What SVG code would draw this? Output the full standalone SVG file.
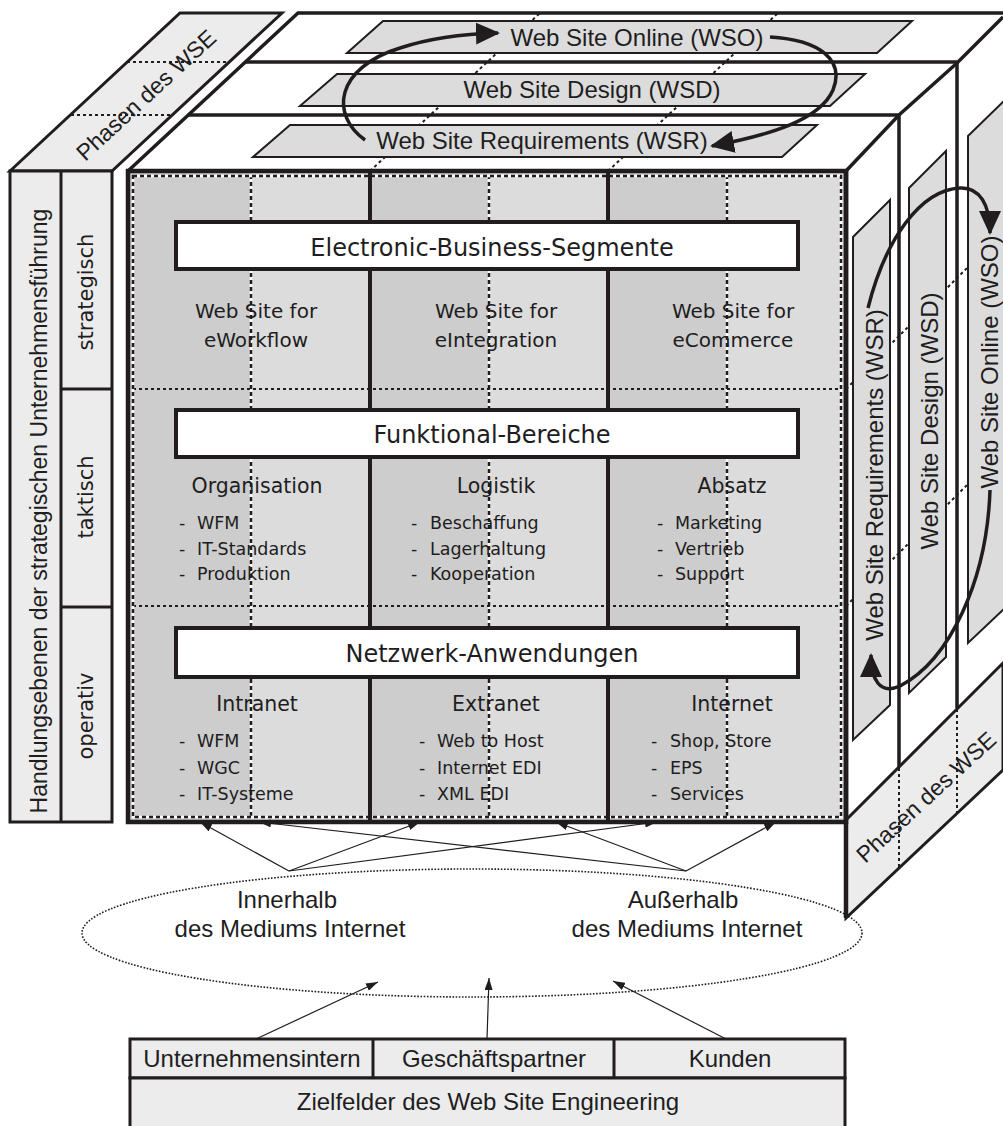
<svg xmlns="http://www.w3.org/2000/svg" width="1003" height="1126" viewBox="0 0 1003 1126">
<style>
.k{stroke:#211d1e;fill:none}
.t{font-family:"DejaVu Sans",sans-serif;fill:#211d1e}
.s{font-family:"Liberation Sans",Arial,sans-serif;fill:#211d1e}
.pl{fill:#ececec;stroke:#211d1e;stroke-width:3}
.sl{fill:#dcdcdc;stroke:#211d1e;stroke-width:2}
.dash{stroke:#211d1e;stroke-width:2;stroke-dasharray:3 3;fill:none}
.wd{stroke:#fff;stroke-width:2.5;fill:none}
.bd{stroke:#211d1e;stroke-width:2.5;stroke-dasharray:4 3;fill:none}
.bar{fill:#fff;stroke:#211d1e;stroke-width:4}
.thin{stroke:#211d1e;stroke-width:1.2;fill:none;marker-end:url(#ah)}
.curve{stroke:#211d1e;stroke-width:3.5;fill:none;marker-end:url(#big)}
</style>
<defs>
<marker id="ah" viewBox="0 0 12 8" refX="12" refY="4" markerWidth="12" markerHeight="8" markerUnits="userSpaceOnUse" orient="auto"><path d="M0,0 L12,4 L0,8 z" fill="#211d1e"/></marker>
<marker id="big" viewBox="0 0 24 22" refX="22" refY="11" markerWidth="24" markerHeight="22" markerUnits="userSpaceOnUse" orient="auto"><path d="M0,0 L24,11 L0,22 z" fill="#211d1e"/></marker>
</defs>
<rect width="1003" height="1126" fill="#fff"/>

<!-- left Phasen -->
<g id="phasen-left">
<polygon class="pl" points="10,171 180,13 282,13 112,171"/>
<line class="dash" x1="127" y1="62" x2="229" y2="62" stroke-dasharray="6 3"/>
<line class="dash" x1="71" y1="115" x2="172" y2="115" stroke-dasharray="6 3"/>
<text class="s" font-size="23" text-anchor="middle" transform="translate(146,95) rotate(-42.7)" y="8">Phasen des WSE</text>
</g>

<!-- left panel -->
<g id="handlungsebenen">
<rect x="10" y="171" width="102" height="651" class="pl"/>
<line class="k" stroke-width="3" x1="61" y1="171" x2="61" y2="822"/>
<line class="k" stroke-width="3" x1="61" y1="389" x2="112" y2="389"/>
<line class="k" stroke-width="3" x1="61" y1="607" x2="112" y2="607"/>
<text class="s" font-size="23" text-anchor="middle" transform="translate(39,511) rotate(-90)" y="8">Handlungsebenen der strategischen Unternehmensführung</text>
<text class="t" font-size="21" text-anchor="middle" transform="translate(86,292) rotate(-90)" y="7">strategisch</text>
<text class="t" font-size="21" text-anchor="middle" transform="translate(86,497) rotate(-90)" y="7">taktisch</text>
<text class="t" font-size="21" text-anchor="middle" transform="translate(86,716) rotate(-90)" y="7">operativ</text>
</g>

<!-- top face -->
<g id="top-face">
<line class="dash" x1="370" y1="171" x2="540" y2="13"/>
<line class="dash" x1="608" y1="171" x2="778" y2="13"/>
<polyline class="k" stroke-width="3.5" points="128,171 298,13 1003,13"/>
<line class="k" stroke-width="3.5" x1="245" y1="62" x2="957" y2="62"/>
<line class="k" stroke-width="3.5" x1="188" y1="115" x2="899" y2="115"/>
<polyline class="k" stroke-width="3.5" points="846,171 899,115 957,63 1003,17"/>
</g>
<g id="wso-top">
<polygon class="sl" points="383,21 912,21 877,53 347,53"/>
<text class="s" font-size="24" text-anchor="middle" x="637" y="46">Web Site Online (WSO)</text>
</g>
<g id="wsd-top">
<polygon class="sl" points="337,74 865,74 830,106 300,106"/>
<text class="s" font-size="24" text-anchor="middle" x="592" y="98">Web Site Design (WSD)</text>
</g>
<g id="wsr-top">
<polygon class="sl" points="290,125 817,125 782,157 253,157"/>
<text class="s" font-size="24" text-anchor="middle" x="542" y="149">Web Site Requirements (WSR)</text>
</g>

<!-- right face -->
<g id="right-face">
<line class="dash" x1="846" y1="389" x2="1003" y2="232"/>
<line class="dash" x1="846" y1="606" x2="1003" y2="449"/>
<line class="k" stroke-width="3.5" x1="899" y1="115" x2="899" y2="767"/>
<line class="k" stroke-width="3.5" x1="957" y1="63" x2="957" y2="708"/>
</g>
<g id="wsr-right">
<polygon class="sl" points="853,237 890,200 890,705 853,740"/>
<text class="s" font-size="24" text-anchor="middle" transform="translate(874,475) rotate(-90)" y="8.5">Web Site Requirements (WSR)</text>
</g>
<g id="wsd-right">
<polygon class="sl" points="909,188 946,151 946,657 909,693"/>
<text class="s" font-size="24" text-anchor="middle" transform="translate(929,421) rotate(-90)" y="8.5">Web Site Design (WSD)</text>
</g>
<g id="wso-right">
<polygon class="sl" points="968,136 1006,99 1006,607 968,643"/>
<text class="s" font-size="24" text-anchor="middle" transform="translate(989,362) rotate(-90)" y="8.5">Web Site Online (WSO)</text>
</g>

<!-- right Phasen -->
<g id="phasen-right">
<polygon class="pl" points="846,820 1003,663 1003,770 846,918"/>
<line class="dash" x1="899" y1="768" x2="899" y2="868" stroke-dasharray="6 3"/>
<line class="dash" x1="957" y1="709" x2="957" y2="813" stroke-dasharray="6 3"/>
<text class="s" font-size="23" text-anchor="middle" transform="translate(926,797) rotate(-42.7)" y="8">Phasen des WSE</text>
</g>

<!-- front face -->
<g id="front-face">
<rect x="128" y="171" width="123" height="651" fill="#cdcdcd"/>
<rect x="251" y="171" width="119" height="651" fill="#dcdcdc"/>
<rect x="370" y="171" width="119" height="651" fill="#cdcdcd"/>
<rect x="489" y="171" width="119" height="651" fill="#dcdcdc"/>
<rect x="608" y="171" width="119" height="651" fill="#cdcdcd"/>
<rect x="727" y="171" width="119" height="651" fill="#dcdcdc"/>
<path class="wd" d="M251,175V818M489,175V818M727,175V818"/>
<path class="bd" d="M251,175V818M489,175V818M727,175V818"/>
<path class="dash" stroke-dasharray="4 4" d="M133,389H842M133,606H842"/>
<rect class="wd" x="133" y="176" width="708" height="641"/>
<rect class="bd" x="133" y="176" width="708" height="641" stroke-width="2" stroke-dasharray="3 3"/>
<rect class="k" stroke-width="4.5" x="128" y="171" width="718" height="651"/>
<line class="k" stroke-width="4.5" x1="846" y1="171" x2="846" y2="918"/>
<line class="k" stroke-width="4" x1="370" y1="171" x2="370" y2="822"/>
<line class="k" stroke-width="4" x1="608" y1="171" x2="608" y2="822"/>
</g>
<g id="ebs">
<rect class="bar" x="176" y="222" width="622" height="47"/>
<text class="t" font-size="24" text-anchor="middle" x="492" y="256">Electronic-Business-Segmente</text>
</g>
<g id="ebs-items" class="t" font-size="20" text-anchor="middle">
<text x="256" y="318">Web Site for</text><text x="256" y="347">eWorkflow</text>
<text x="496" y="318">Web Site for</text><text x="496" y="347">eIntegration</text>
<text x="733" y="318">Web Site for</text><text x="733" y="347">eCommerce</text>
</g>
<g id="fb">
<rect class="bar" x="176" y="410" width="622" height="47"/>
<text class="t" font-size="24" text-anchor="middle" x="492" y="443">Funktional-Bereiche</text>
</g>
<g id="fb-items" class="t">
<g font-size="20.5" text-anchor="middle">
<text x="257" y="493">Organisation</text><text x="496" y="493">Logistik</text><text x="732" y="493">Absatz</text>
</g>
<g font-size="17.5">
<text x="179" y="529">-</text><text x="197" y="529">WFM</text>
<text x="179" y="555">-</text><text x="197" y="555">IT-Standards</text>
<text x="179" y="580">-</text><text x="197" y="580">Produktion</text>
<text x="411" y="529">-</text><text x="430" y="529">Beschaffung</text>
<text x="411" y="555">-</text><text x="430" y="555">Lagerhaltung</text>
<text x="411" y="580">-</text><text x="430" y="580">Kooperation</text>
<text x="657" y="529">-</text><text x="675" y="529">Marketing</text>
<text x="657" y="555">-</text><text x="675" y="555">Vertrieb</text>
<text x="657" y="580">-</text><text x="675" y="580">Support</text>
</g>
</g>
<g id="nwa">
<rect class="bar" x="176" y="628" width="622" height="49"/>
<text class="t" font-size="24" text-anchor="middle" x="492" y="662">Netzwerk-Anwendungen</text>
</g>
<g id="nwa-items" class="t">
<g font-size="20.5" text-anchor="middle">
<text x="257" y="711">Intranet</text><text x="496" y="711">Extranet</text><text x="732" y="711">Internet</text>
</g>
<g font-size="17.5">
<text x="179" y="747">-</text><text x="197" y="747">WFM</text>
<text x="179" y="774">-</text><text x="197" y="774">WGC</text>
<text x="179" y="800">-</text><text x="197" y="800">IT-Systeme</text>
<text x="419" y="747">-</text><text x="437" y="747">Web to Host</text>
<text x="419" y="774">-</text><text x="437" y="774">Internet EDI</text>
<text x="419" y="800">-</text><text x="437" y="800">XML EDI</text>
<text x="651" y="747">-</text><text x="670" y="747">Shop, Store</text>
<text x="651" y="774">-</text><text x="670" y="774">EPS</text>
<text x="651" y="800">-</text><text x="670" y="800">Services</text>
</g>
</g>

<!-- medium ellipse -->
<g id="medium">
<ellipse cx="472" cy="933" rx="390" ry="64" class="k" stroke-width="1.6" stroke-dasharray="1.6 1.6"/>
<g class="s" font-size="24" text-anchor="middle">
<text x="287" y="908">Innerhalb</text><text x="290" y="937">des Mediums Internet</text>
<text x="683" y="908">Außerhalb</text><text x="687" y="937">des Mediums Internet</text>
</g>
</g>

<!-- Zielfelder -->
<g id="zielfelder">
<rect x="130" y="1039" width="715" height="39" class="pl"/>
<rect x="130" y="1078" width="715" height="60" class="pl"/>
<line class="k" stroke-width="3" x1="373" y1="1039" x2="373" y2="1078"/>
<line class="k" stroke-width="3" x1="614" y1="1039" x2="614" y2="1078"/>
<g class="s" font-size="24" text-anchor="middle">
<text x="252" y="1067">Unternehmensintern</text>
<text x="494" y="1067">Geschäftspartner</text>
<text x="730" y="1067">Kunden</text>
<text x="488" y="1110">Zielfelder des Web Site Engineering</text>
</g>
</g>

<!-- connectors -->
<g id="connectors">
<path class="curve" d="M365,140 C330,115 335,68 400,48 C430,38 460,34 498,33"/>
<path class="curve" d="M770,37 C820,40 845,60 833,90 C820,120 770,135 712,146"/>
<path class="curve" d="M868,308 C885,240 920,190 960,188 C980,187 990,205 990,233"/>
<path class="curve" d="M990,490 C987,580 950,660 900,686 C880,695 871,680 871,655"/>
<line class="thin" x1="289" y1="871" x2="200" y2="822"/>
<line class="thin" x1="289" y1="871" x2="420" y2="822"/>
<line class="thin" x1="289" y1="871" x2="657" y2="822"/>
<line class="thin" x1="686" y1="871" x2="259" y2="822"/>
<line class="thin" x1="686" y1="871" x2="556" y2="822"/>
<line class="thin" x1="686" y1="871" x2="776" y2="822"/>
<line class="thin" x1="256" y1="1039" x2="378" y2="982"/>
<line class="thin" x1="487" y1="1039" x2="489" y2="978"/>
<line class="thin" x1="726" y1="1039" x2="613" y2="981"/>
</g>
</svg>
